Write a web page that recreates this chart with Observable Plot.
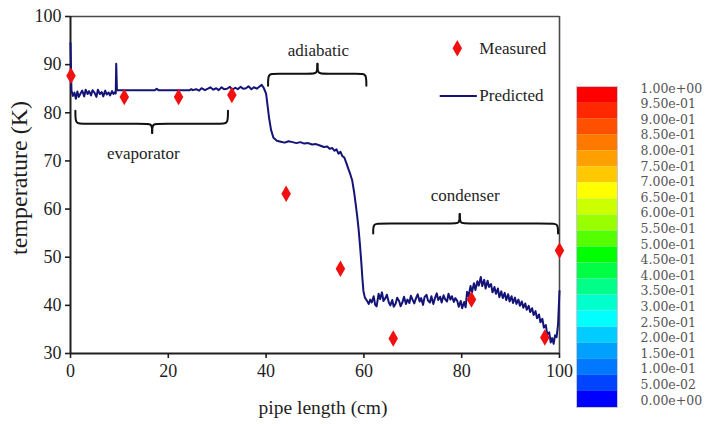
<!DOCTYPE html>
<html>
<head>
<meta charset="utf-8">
<script src="https://cdn.jsdelivr.net/npm/d3@7"></script>
<script src="https://cdn.jsdelivr.net/npm/@observablehq/plot@0.6"></script>
<style>
  html, body { margin: 0; padding: 0; background: #fff; }
  #wrap { position: relative; width: 713px; height: 424px; overflow: hidden; }
  #wrap > svg { position: absolute; }
  #wrap svg.main text { font-family: "Liberation Serif", "Times New Roman", serif !important; }
  #wrap svg.labels text { font-family: "DejaVu Serif", serif !important; }
</style>
</head>
<body>
<div id="wrap"></div>
<script>
// ---- data ----
const xTicks = [0, 20, 40, 60, 80, 100];
const yTicks = [30, 40, 50, 60, 70, 80, 90, 100];

const measuredX = [0.1, 11.0, 22.1, 33.0, 44.1, 55.2, 66.0, 82.0, 97.0, 100.0];
const measuredY = [87.7, 83.3, 83.3, 83.7, 63.2, 47.6, 33.1, 41.2, 33.3, 51.4];

const predX = [
  0, 0.2, 0.5, 0.8, 1.1, 1.4, 1.7, 2.1, 2.4, 2.8, 3.1, 3.5, 3.8, 4.2, 4.5, 4.9, 5.3, 5.6, 6.0, 6.4, 6.7, 7.1, 7.4, 7.8, 8.1, 8.5, 8.8, 9.1, 9.25, 9.35, 9.5,
  12, 15, 17.3, 17.6, 18, 22, 24.4, 24.7, 25,
  25.7, 26.3, 26.8, 27.5, 28.1, 28.6, 29.2, 29.8, 30.3, 30.9, 31.4, 32.0, 32.6, 33.1, 33.7, 34.2, 34.8, 35.3, 35.9, 36.4, 37.0, 37.5, 38.1, 38.6, 39.1, 39.5,
  40.0, 40.3, 40.6, 41.0, 41.5, 42.2, 43, 43.8, 44.6, 45.4, 46.2, 47, 47.8, 48.6, 49.4, 50.2, 51, 51.8, 52.5, 53.0, 53.5, 54, 54.4, 54.8, 55.2, 55.6, 56, 56.4, 56.8, 57.2, 57.6,
  58.0, 58.3, 58.6, 58.9, 59.2, 59.5, 59.7, 59.9, 60.2, 60.6, 61.0,
  61.3, 61.6, 62.0, 62.3, 62.6, 63.0, 63.3, 63.7, 64.0, 64.4, 64.7, 65.1, 65.4, 65.8, 66.1, 66.5, 66.8, 67.2, 67.5, 67.9, 68.2, 68.6, 68.9,
  69.3, 69.6, 70.0, 70.3, 70.7, 71.0, 71.4, 71.7, 72.1, 72.4, 72.8, 73.1, 73.5, 73.8, 74.2, 74.5, 74.9, 75.2, 75.6, 75.9, 76.3, 76.6, 77.0,
  77.3, 77.7, 78.0, 78.4, 78.7, 79.1, 79.4, 79.8, 80.1, 80.5, 80.8, 81.1, 81.4, 81.8, 82.1, 82.5, 82.8, 83.2, 83.5, 83.9, 84.2, 84.6, 84.9,
  85.3, 85.6, 86.0, 86.3, 86.7, 87.0, 87.4, 87.7, 88.1, 88.4, 88.8, 89.1, 89.5, 89.8, 90.2, 90.5, 90.9, 91.2, 91.6, 91.9, 92.3, 92.6, 93.0,
  93.3, 93.7, 94.0, 94.4, 94.7, 95.1, 95.4, 95.8, 96.1, 96.5, 96.8, 97.2, 97.5, 97.9, 98.2, 98.5, 98.8, 99.1, 99.4, 99.7, 100
];
const predY = [
  94.5, 84.6, 83.5, 84.2, 82.9, 84.4, 83.3, 84.1, 84.6, 83.4, 84.8, 83.9, 84.5, 83.6, 84.7, 84.2, 83.3, 84.8, 83.9, 84.3, 83.4, 84.6, 83.8, 84.2, 83.6, 84.5, 83.9, 84.3, 84.0, 90.2, 84.7,
  84.7, 84.7, 84.7, 85.0, 84.7, 84.7, 84.7, 84.9, 84.7,
  84.9, 84.6, 85.1, 84.7, 85.0, 85.3, 84.8, 85.1, 84.7, 85.3, 84.9, 85.0, 85.4, 84.8, 85.2, 84.9, 85.4, 85.0, 85.1, 85.5, 84.9, 85.3, 85.0, 85.4, 85.8, 85.2,
  84.0, 81.5, 79.0, 76.5, 74.8, 74.2, 74.0, 73.8, 74.1, 73.9, 73.7, 73.9, 73.6, 73.7, 73.4, 73.5, 73.2, 72.9, 73.0, 72.5, 72.7, 72.1, 72.4, 71.5, 71.9, 71.0, 70.7, 69.6, 68.4, 67.3, 66.0,
  63.5, 61.2, 58.8, 56.0, 52.5, 48.5, 45.5, 43.0, 41.6, 41.0, 40.3,
  41.2, 40.6, 41.9, 40.1, 39.8, 42.4, 41.3, 42.7, 40.9, 41.5, 42.2, 40.6, 40.0, 41.1, 39.7, 40.4, 41.6, 40.9, 39.8, 40.7, 41.8, 40.3, 41.2,
  40.5, 42.0, 41.1, 40.4, 41.6, 42.3, 40.8, 41.5, 40.1, 41.7, 42.2, 41.0, 40.6, 41.9, 40.3, 41.4, 42.5, 41.1, 41.8, 40.6, 42.1, 41.3, 40.8,
  42.4, 41.2, 41.9, 40.7, 41.5, 40.9, 39.7, 40.9, 39.4, 40.7, 39.6, 42.8, 41.9, 44.0, 42.7, 44.6, 43.2, 45.0, 44.1, 45.9, 44.0, 45.3, 43.5,
  45.1, 43.8, 44.4, 42.7, 43.8, 42.4, 43.5, 41.7, 42.9, 41.5, 42.6, 41.1, 42.3, 40.8, 41.9, 40.5, 41.6, 40.3, 41.2, 39.9, 40.8, 39.5, 40.4,
  39.1, 39.9, 38.6, 39.4, 38.0, 38.8, 37.3, 38.1, 36.5, 37.2, 35.4, 35.9, 33.9, 34.4, 32.3, 33.2, 32.0, 33.8, 33.4, 36.0, 43.0
];

const zoneNames = ["evaporator", "adiabatic", "condenser"];
const zoneLabelX = [14.9, 50.7, 80.7];
const zoneLabelY = [71.5, 92.9, 62.8];
// braces: start, end, tip x, end level, bar level, tip level
const braceX1 = [1.0, 40.4, 61.9];
const braceX2 = [32.2, 60.5, 99.7];
const braceXm = [16.7, 50.5, 79.6];
const braceEnd = [80.4, 85.6, 54.9];
const braceBar = [77.7, 88.1, 57.0];
const braceTip = [75.8, 90.2, 59.0];

const legendNames = ["Measured", "Predicted"];

const barColors = [
  "#ff0000", "#ff2800", "#ff5000", "#ff7800", "#ffa000", "#ffc800", "#ffff00", "#ccff00", "#99ff00", "#55ff00",
  "#00ff00", "#00ff44", "#00ff88", "#00ffcc", "#00ffff", "#00ccff", "#00a0ff", "#0078ff", "#0044ff", "#0000ff"
];
const barLabels = [
  "1.00e+00", "9.50e-01", "9.00e-01", "8.50e-01", "8.00e-01", "7.50e-01", "7.00e-01", "6.50e-01", "6.00e-01", "5.50e-01",
  "5.00e-01", "4.50e-01", "4.00e-01", "3.50e-01", "3.00e-01", "2.50e-01", "2.00e-01", "1.50e-01", "1.00e-01", "5.00e-02", "0.00e+00"
];

// ---- build tables ----
const measured = measuredX.map((x, i) => ({x, y: measuredY[i]}));
const predicted = predX.map((x, i) => ({x, y: predY[i]}));
const zones = zoneNames.map((name, i) => ({name, x: zoneLabelX[i], y: zoneLabelY[i]}));
const bracePts = [];
zoneNames.forEach((name, i) => {
  const x1 = braceX1[i], x2 = braceX2[i], xm = braceXm[i];
  const e = braceEnd[i], b = braceBar[i], t = braceTip[i];
  [[x1, xm], [x2, xm]].forEach(([xs, xt], h) => {
    const dir = xt > xs ? 1 : -1;
    const pts = [[xs, e], [xs, b], [xs + dir * 1.2, b], [xt - dir * 1.2, b], [xt, b], [xt, t]];
    pts.forEach(([x, y]) => bracePts.push({x, y, z: name + h}));
  });
});

const SERIF = "Liberation Serif";
const INK = "#1e1e1e";
const LINE = "#141478";
const RED = "#f01010";

const chart = Plot.plot({
  className: "main",
  width: 713,
  height: 424,
  marginLeft: 70,
  marginRight: 154,
  marginTop: 16,
  marginBottom: 71,
  x: {domain: [0, 100]},
  y: {domain: [30, 100]},
  style: {fontFamily: SERIF, color: INK, background: "transparent"},
  marks: [
    Plot.ruleY([100], {stroke: "#4a4a4a", strokeWidth: 1.6}),
    Plot.ruleX([100], {stroke: "#4a4a4a", strokeWidth: 1.6}),
    Plot.axisY({ticks: yTicks, tickSize: 5, tickPadding: 4, fontSize: 18, fontFamily: SERIF, strokeWidth: 1.6, stroke: INK, fill: INK, label: null}),
    Plot.axisX({ticks: xTicks, tickSize: 5, tickPadding: 6, fontSize: 18, fontFamily: SERIF, strokeWidth: 1.6, stroke: INK, fill: INK, label: null}),
    Plot.ruleX([0], {stroke: INK, strokeWidth: 2}),
    Plot.ruleY([30], {stroke: INK, strokeWidth: 2}),
    Plot.line(bracePts, {x: "x", y: "y", z: "z", curve: "basis", stroke: "#111", strokeWidth: 2}),
    Plot.text(zones, {x: "x", y: "y", text: "name", fontSize: 17, fontFamily: SERIF, fill: INK}),
    Plot.line(predicted, {x: "x", y: "y", stroke: LINE, strokeWidth: 2}),
    Plot.dot(measured, {x: "x", y: "y", symbol: "diamond", r: 5, fill: RED, stroke: "none"}),
    // legend
    Plot.dot([legendNames[0]], {x: () => 79.1, y: () => 93.4, symbol: "diamond", r: 5, fill: RED, stroke: "none"}),
    Plot.ruleY([83.5], {x1: 75.6, x2: 83.2, stroke: LINE, strokeWidth: 2}),
    Plot.text(legendNames, {x: () => 83.6, y: (d, i) => [93.4, 83.5][i], text: d => d, textAnchor: "start", fontSize: 17, fontFamily: SERIF, fill: INK}),
    // axis titles
    Plot.text(["temperature (K)"], {frameAnchor: "left", dx: -51, dy: -7, rotate: -90, textAnchor: "middle", lineAnchor: "middle", fontSize: 24, fontFamily: SERIF, fill: INK}),
    Plot.text(["pipe length (cm)"], {frameAnchor: "bottom", dx: 8, dy: 54, textAnchor: "middle", lineAnchor: "middle", fontSize: 19.5, fontFamily: SERIF, fill: INK})
  ]
});
chart.style.left = "0px";
chart.style.top = "0px";

const bands = barColors.map((color, i) => ({color, hi: 1 - i / barColors.length, lo: 1 - (i + 1) / barColors.length}));
const bar = Plot.plot({
  width: 153,
  height: 424,
  marginLeft: 16,
  marginRight: 96,
  marginTop: 86,
  marginBottom: 17,
  x: {domain: [0, 1], axis: null},
  y: {domain: [0, 1], axis: null},
  color: {type: "identity"},
  style: {background: "transparent"},
  marks: [
    Plot.rect(bands, {x1: () => 0, x2: () => 1, y1: "lo", y2: "hi", fill: "color", inset: 0}),
    Plot.frame({stroke: "#c8c8d8", strokeWidth: 1})
  ]
});
bar.style.left = "560px";
bar.style.top = "0px";

const labelRows = barLabels.map((label, i) => ({label, v: 1 - i / (barLabels.length - 1)}));
const lab = Plot.plot({
  className: "labels",
  width: 153,
  height: 424,
  marginLeft: 80,
  marginRight: 0,
  marginTop: 88,
  marginBottom: 24,
  x: {domain: [0, 1], axis: null},
  y: {domain: [0, 1], axis: null},
  style: {background: "transparent", fontFamily: "DejaVu Serif"},
  marks: [
    Plot.text(labelRows, {x: () => 0, y: "v", text: "label", textAnchor: "start", lineAnchor: "middle", fontFamily: "DejaVu Serif", fontSize: 12.5, fill: "#555555"})
  ]
});
lab.style.left = "560px";
lab.style.top = "0px";

const wrap = document.getElementById("wrap");
wrap.appendChild(chart);
wrap.appendChild(bar);
wrap.appendChild(lab);
</script>
</body>
</html>
